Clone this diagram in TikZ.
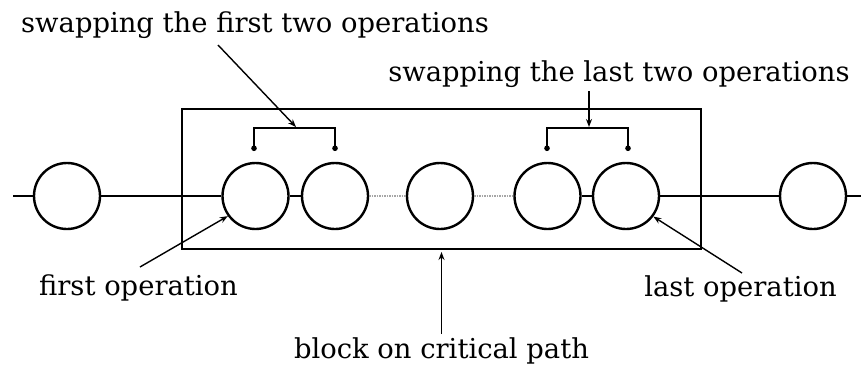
\documentclass[tikz,border=0pt]{standalone}
\usepackage{fontspec}
\setmainfont{DejaVu Serif}
\usetikzlibrary{arrows.meta}
\begin{document}
\begin{tikzpicture}[x=1pt,y=-1pt,
  op/.style={circle,draw,line width=2.4pt,minimum size=66pt,inner sep=0pt},
  lbl/.style={anchor=base,inner sep=0pt,font=\fontsize{27.4}{30}\selectfont},
  conn/.style={line width=1.4pt},
  arr/.style={conn,-{Stealth[length=8pt,width=6pt]}},
  dotend/.style={conn,-{Circle[length=5.5pt]}},
  chain/.style={line width=1.8pt},
  dots/.style={line width=1.6pt,gray!70,dash pattern=on 1.5pt off 1pt}]
\useasboundingbox (0,0) rectangle (861,367);
% block
\node[draw,line width=2pt,minimum width=519pt,minimum height=140pt,inner sep=0pt] (blk) at (441.5,179) {};
% operations
\node[op] (c1) at (67,196) {};
\node[op] (c2) at (255.5,196) {};
\node[op] (c3) at (335,196) {};
\node[op] (c4) at (440,196) {};
\node[op] (c5) at (547.5,196) {};
\node[op] (c6) at (626,196) {};
\node[op] (c7) at (813,196) {};
\coordinate (lin) at (13,196);
\coordinate (lout) at (861,196);
\draw[chain] (lin) -- (c1) -- (c2) -- (c3);
\draw[dots] (c3) -- (c4) -- (c5);
\draw[chain] (c5) -- (c6) -- (c7) -- (lout);
% labels
\node[lbl] (t1) at (255,32) {swapping the first two operations};
\node[lbl] (t2) at (619,81) {swapping the last two operations};
\node[lbl] (t3) at (138.5,295) {first operation};
\node[lbl] (t4) at (740.5,296) {last operation};
\node[lbl] (t5) at (441.5,358) {block on critical path};
% brackets
\coordinate (b1l) at (254,128);
\coordinate (b1r) at (335,128);
\coordinate (b1m) at (296,127);
\draw[dotend] (b1l) -- (254,151);
\draw[dotend] (b1r) -- (335,151);
\draw[conn] (254,151) -- (b1l) -- (b1r) -- (335,151);
\coordinate (b2l) at (547,128);
\coordinate (b2r) at (628,128);
\coordinate (b2m) at (589,127);
\draw[conn] (547,151) -- (b2l) -- (b2r) -- (628,151);
\draw[dotend] (b2l) -- (547,151);
\draw[dotend] (b2r) -- (628,151);
% arrows
\coordinate (a1) at (218,45);
\draw[arr] (a1) -- (b1m);
\coordinate (a2) at (589,91);
\draw[arr] (a2) -- (b2m);
\coordinate (a3) at (140,267);
\draw[arr] (a3) -- (c2.216);
\coordinate (a4) at (742,273);
\draw[arr] (a4) -- (c6.-37);
\coordinate (a5) at (441.5,334);
\draw[arr] (a5) -- ([yshift=-2pt]blk.south);
\end{tikzpicture}
\end{document}
